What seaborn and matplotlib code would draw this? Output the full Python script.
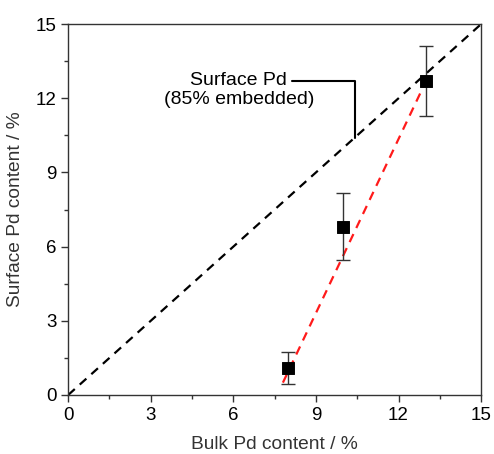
import matplotlib
matplotlib.use("Agg")
import matplotlib.pyplot as plt
import seaborn as sns
import pandas as pd

bulk = [8, 10, 13]
surface = [1.1, 6.8, 12.7]
err = [0.65, 1.35, 1.4]
fit_x = [7.8, 13.0]
fit_y = [0.5, 12.7]
ref_x = [0, 15]
ref_y = [0, 15]
ticks = [0, 3, 6, 9, 12, 15]

sns.set_theme(style="ticks")
plt.rcParams['font.family'] = ['Liberation Sans', 'DejaVu Sans']

fig = plt.figure(figsize=(4.94, 4.54), dpi=100)
ax = fig.add_axes([0.138, 0.130, 0.836, 0.817])

sns.lineplot(x=ref_x, y=ref_y, ax=ax, color='black', linestyle=(0, (4, 3)), linewidth=1.6)
sns.lineplot(x=fit_x, y=fit_y, ax=ax, color='#ff1a1a', linestyle=(0, (4, 3)), linewidth=1.6)
ax.errorbar(bulk, surface, yerr=err, fmt='none', ecolor='#333333', elinewidth=1.0, capsize=5, capthick=1.0, zorder=3)
sns.scatterplot(x=bulk, y=surface, ax=ax, marker='s', s=70, color='black', edgecolor='black', zorder=4)

ax.set_xlim(0, 15)
ax.set_ylim(0, 15)
ax.set_xticks(ticks)
ax.set_yticks(ticks)
ax.set_xticks([1.5, 4.5, 7.5, 10.5, 13.5], minor=True)
ax.set_yticks([1.5, 4.5, 7.5, 10.5, 13.5], minor=True)
ax.tick_params(which='major', direction='out', length=5, width=1, labelsize=13.5, colors='#333333', labelcolor='black')
ax.tick_params(which='minor', direction='out', length=3, width=1, colors='#333333')
for s in ax.spines.values():
    s.set_color('#333333')
    s.set_linewidth(1.0)

ax.set_xlabel('Bulk Pd content / %', fontsize=13.8, color='#333333', labelpad=9)
ax.set_ylabel('Surface Pd content / %', fontsize=13.8, color='#333333', labelpad=8)

ax.text(6.2, 12.33, 'Surface Pd\n(85% embedded)', ha='center', va='center', fontsize=14, color='black', linespacing=1.15)
ax.plot([8.14, 10.43, 10.43], [12.7, 12.7, 10.4], color='black', linewidth=1.5)

fig.savefig('out.png', dpi=100)
